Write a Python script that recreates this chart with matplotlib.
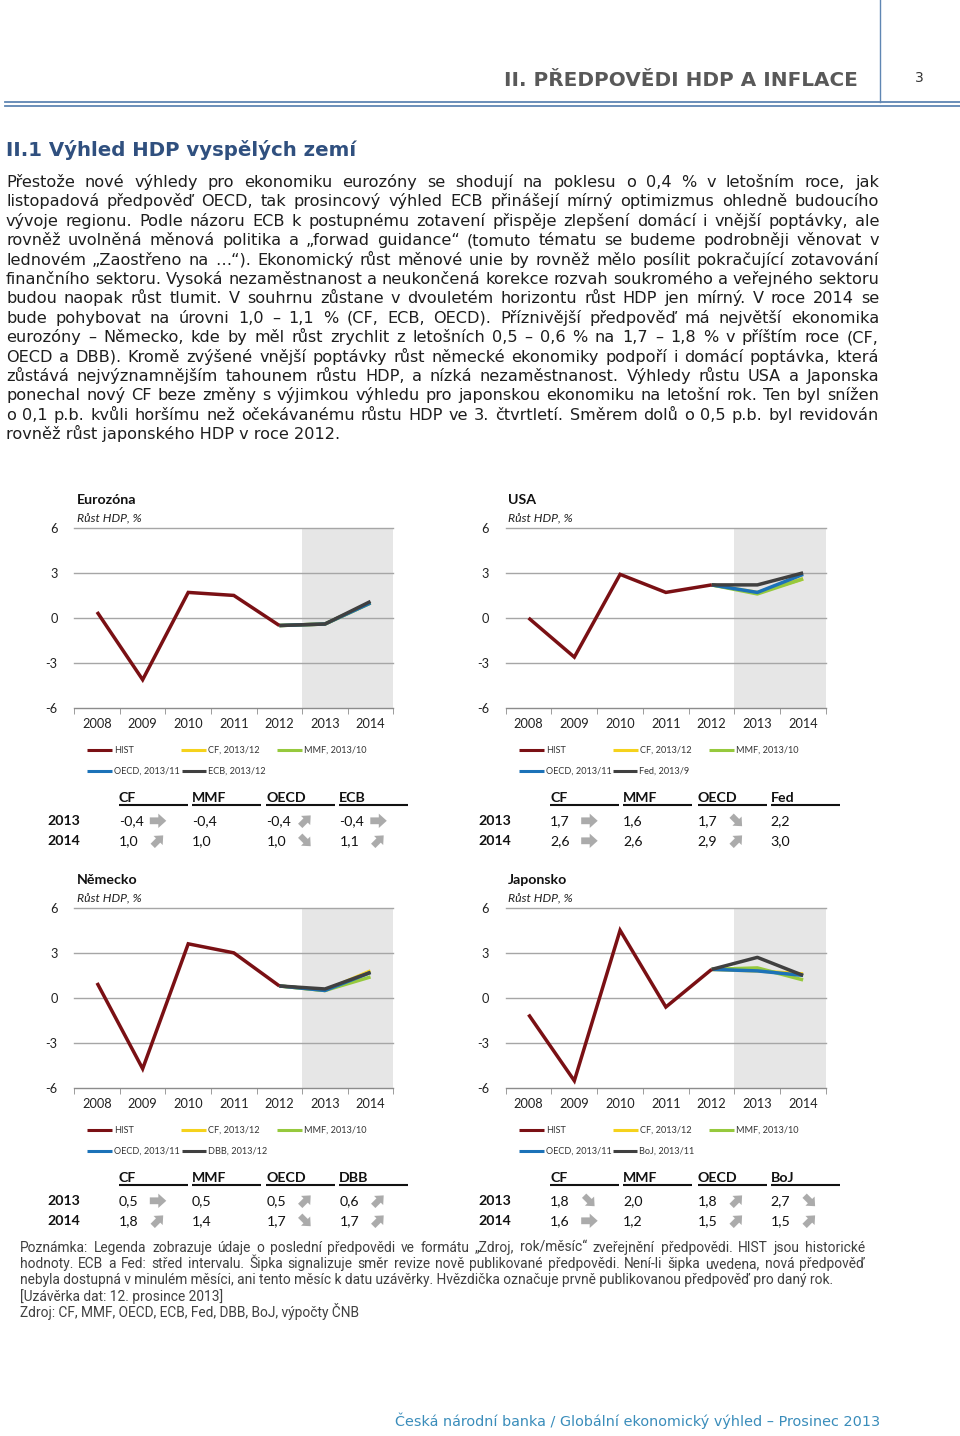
import numpy as np
import matplotlib
matplotlib.use('Agg')
import matplotlib.pyplot as plt
from matplotlib.patches import Polygon

plt.rcParams['font.family'] = ['Lato', 'DejaVu Sans']

# ---------------- data ----------------
years = ['2008', '2009', '2010', '2011', '2012', '2013', '2014']
sources = ['CF', 'MMF', 'OECD']
legend_src = ['CF, 2013/12', 'MMF, 2013/10', 'OECD, 2013/11']

eu_hist = [0.4, -4.1, 1.7, 1.5, -0.5]
eu_f2013 = [-0.4, -0.4, -0.4, -0.4]
eu_f2014 = [1.0, 1.0, 1.0, 1.1]
eu_arr2013 = ['r', '', 'ne', 'r']
eu_arr2014 = ['ne', '', 'se', 'ne']

us_hist = [0.0, -2.6, 2.9, 1.7, 2.2]
us_f2013 = [1.7, 1.6, 1.7, 2.2]
us_f2014 = [2.6, 2.6, 2.9, 3.0]
us_arr2013 = ['r', '', 'se', '']
us_arr2014 = ['r', '', 'ne', '']

de_hist = [1.0, -4.7, 3.6, 3.0, 0.8]
de_f2013 = [0.5, 0.5, 0.5, 0.6]
de_f2014 = [1.8, 1.4, 1.7, 1.7]
de_arr2013 = ['r', '', 'ne', 'ne']
de_arr2014 = ['ne', '', 'se', 'ne']

jp_hist = [-1.1, -5.5, 4.5, -0.6, 1.9]
jp_f2013 = [1.8, 2.0, 1.8, 2.7]
jp_f2014 = [1.6, 1.2, 1.5, 1.5]
jp_arr2013 = ['se', '', 'ne', 'se']
jp_arr2014 = ['r', '', 'ne', 'ne']

paragraph = [
    "Přestože nové výhledy pro ekonomiku eurozóny se shodují na poklesu o 0,4 % v letošním roce, jak",
    "listopadová předpověď OECD, tak prosincový výhled ECB přinášejí mírný optimizmus ohledně budoucího",
    "vývoje regionu. Podle názoru ECB k postupnému zotavení přispěje zlepšení domácí i vnější poptávky, ale",
    "rovněž uvolněná měnová politika a „forwad guidance“ (tomuto tématu se budeme podrobněji věnovat v",
    "lednovém „Zaostřeno na …“). Ekonomický růst měnové unie by rovněž mělo posílit pokračující zotavování",
    "finančního sektoru. Vysoká nezaměstnanost a neukončená korekce rozvah soukromého a veřejného sektoru",
    "budou naopak růst tlumit. V souhrnu zůstane v dvouletém horizontu růst HDP jen mírný. V roce 2014 se",
    "bude pohybovat na úrovni 1,0 – 1,1 % (CF, ECB, OECD). Příznivější předpověď má největší ekonomika",
    "eurozóny – Německo, kde by měl růst zrychlit z letošních 0,5 – 0,6 % na 1,7 – 1,8 % v příštím roce (CF,",
    "OECD a DBB). Kromě zvýšené vnější poptávky růst německé ekonomiky podpoří i domácí poptávka, která",
    "zůstává nejvýznamnějším tahounem růstu HDP, a nízká nezaměstnanost. Výhledy růstu USA a Japonska",
    "ponechal nový CF beze změny s výjimkou výhledu pro japonskou ekonomiku na letošní rok. Ten byl snížen",
    "o 0,1 p.b. kvůli horšímu než očekávanému růstu HDP ve 3. čtvrtletí. Směrem dolů o 0,5 p.b. byl revidován",
    "rovněž růst japonského HDP v roce 2012.",
]

footnote = [
    "Poznámka: Legenda zobrazuje údaje o poslední předpovědi ve formátu „Zdroj, rok/měsíc“ zveřejnění předpovědi. HIST jsou historické",
    "hodnoty. ECB a Fed: střed intervalu. Šipka signalizuje směr revize nově publikované předpovědi. Není-li šipka uvedena, nová předpověď",
    "nebyla dostupná v minulém měsíci, ani tento měsíc k datu uzávěrky. Hvězdička označuje prvně publikovanou předpověď pro daný rok.",
    "[Uzávěrka dat: 12. prosince 2013]",
    "Zdroj: CF, MMF, OECD, ECB, Fed, DBB, BoJ, výpočty ČNB",
]

# ---------------- styles ----------------
C_HIST = '#7a1014'
C_CF = '#f5d21c'
C_MMF = '#96c93d'
C_OECD = '#1c72b8'
C_CB = '#404040'
C_RULE = '#5f86b3'

W, H = 960, 1436
fig = plt.figure(figsize=(W / 100, H / 100), dpi=100)
bg = fig.add_axes([0, 0, 1, 1])
bg.set_xlim(0, W)
bg.set_ylim(H, 0)
bg.axis('off')
renderer = fig.canvas.get_renderer()


def wid(t):
    return t.get_window_extent(renderer=renderer).width


def fit_text(x, y, s, target_w, **kw):
    t = bg.text(x, y, s, fontsize=10, va='baseline', ha='left', **kw)
    t.set_fontsize(10 * target_w / wid(t))
    return t


def justify(x0, x1, y, line, size, **kw):
    words = line.split(' ')
    ts = [bg.text(0, y, w, fontsize=size, va='baseline', ha='left', **kw) for w in words]
    ws = [wid(t) for t in ts]
    gap = (x1 - x0 - sum(ws)) / max(len(words) - 1, 1)
    x = x0
    for t, w in zip(ts, ws):
        t.set_x(x)
        x += w + gap


def arrow(cx, cy, kind):
    ang = {'r': 0, 'ne': 45, 'se': -45}[kind]
    sc = 1.0 if kind == 'r' else 0.9
    shape = np.array([(-8, -3.4), (0.5, -3.4), (0.5, -7.2), (8.5, 0),
                      (0.5, 7.2), (0.5, 3.4), (-8, 3.4)]) * sc
    a = np.deg2rad(ang)
    xs = cx + shape[:, 0] * np.cos(a) - shape[:, 1] * np.sin(a)
    ys = cy - (shape[:, 0] * np.sin(a) + shape[:, 1] * np.cos(a))
    bg.add_patch(Polygon(np.c_[xs, ys], closed=True, fc='#ababab', ec='none'))


# ---------------- page header ----------------
bg.plot([5, W], [101.5, 101.5], color=C_RULE, lw=1.3)
bg.plot([5, W], [105.5, 105.5], color=C_RULE, lw=1.3)
bg.plot([880, 880], [0, 101.5], color=C_RULE, lw=1.0)
fit_text(504, 86, "II. PŘEDPOVĚDI HDP A INFLACE", 354, family='DejaVu Sans',
         fontweight='bold', color='#595959')
bg.text(919, 82, "3", fontsize=10, family='DejaVu Sans', color='#333333',
        ha='center', va='baseline')
fit_text(6, 156, "II.1 Výhled HDP vyspělých zemí", 350, family='DejaVu Sans',
         fontweight='bold', color='#30507f')

# ---------------- paragraph ----------------
tmp = bg.text(0, 0, paragraph[-1], fontsize=10, family='DejaVu Sans')
psize = 10 * 334 / wid(tmp)
tmp.remove()
for i, line in enumerate(paragraph):
    y = 187 + i * 19.4
    if i < len(paragraph) - 1:
        justify(6, 879, y, line, psize, family='DejaVu Sans', color='#1e1e1e')
    else:
        bg.text(6, y, line, fontsize=psize, family='DejaVu Sans', color='#1e1e1e',
                va='baseline', ha='left')


# ---------------- panels ----------------
def panel(left, right, top, bottom, title, hist, f13, f14, cb, cb_leg, a13, a14):
    ax = fig.add_axes([left / W, 1 - bottom / H, (right - left) / W, (bottom - top) / H])
    ax.set_facecolor('none')
    ax.set_xlim(-0.5, 6.5)
    ax.set_ylim(-6, 6)
    ax.axvspan(4.5, 6.5, color='#e6e6e6', lw=0, zorder=0)
    for v in [-3, 0, 3, 6]:
        ax.axhline(v, color='#a6a6a6', lw=1.0, zorder=1, clip_on=False)
    for s in ['top', 'right', 'left']:
        ax.spines[s].set_visible(False)
    ax.spines['bottom'].set_color('#8c8c8c')
    ax.spines['bottom'].set_linewidth(1.0)
    x = np.arange(len(years))
    ax.set_xticks(x)
    ax.set_xticklabels(years, fontsize=9.2, color='#222222')
    ax.set_xticks(np.arange(-0.5, 7, 1), minor=True)
    ax.tick_params(axis='x', which='major', length=0, pad=7)
    ax.tick_params(axis='x', which='minor', length=4, color='#8c8c8c', direction='out')
    ax.set_yticks([-6, -3, 0, 3, 6])
    ax.set_yticklabels(['-6', '-3', '0', '3', '6'], fontsize=9.2, color='#222222')
    ax.tick_params(axis='y', length=0, pad=12)

    cols = [C_CF, C_MMF, C_OECD, C_CB]
    for i in range(4):
        ax.plot(x[4:], [hist[4], f13[i], f14[i]], color=cols[i], lw=2.5, zorder=3 + i * 0.1,
                solid_joinstyle='round', solid_capstyle='butt')
    ax.plot(x[:5], hist, color=C_HIST, lw=2.5, zorder=4, solid_joinstyle='miter',
            solid_capstyle='butt')

    # titles
    bg.text(left + 2.5, top - 23.5, title, fontsize=10.2, fontweight='bold', color='#111111',
            va='baseline', ha='left')
    bg.text(left + 2.5, top - 6, "Růst HDP, %", fontsize=8.8, style='italic', color='#222222',
            va='baseline', ha='left')

    # legend
    r1, r2 = bottom + 42, bottom + 62.5
    lk = dict(fontsize=6.6, color='#333333', va='center', ha='left')
    items1 = [(13, C_HIST, 'HIST'), (107, C_CF, legend_src[0]), (203, C_MMF, legend_src[1])]
    for off, c, lab in items1:
        bg.plot([left + off, left + off + 25], [r1, r1], color=c, lw=2.2, solid_capstyle='butt')
        bg.text(left + off + 27, r1, lab, **lk)
    bg.plot([left + 13, left + 38], [r2, r2], color=C_OECD, lw=2.2, solid_capstyle='butt')
    t = bg.text(left + 40, r2, legend_src[2], **lk)
    xe = left + 40 + wid(t) + 2
    bg.plot([xe, xe + 24], [r2, r2], color=C_CB, lw=2.2, solid_capstyle='butt')
    bg.text(xe + 26, r2, cb_leg, **lk)

    # table
    hy, uy, y1, y2 = bottom + 89.5, bottom + 97, bottom + 112.5, bottom + 132.5
    heads = sources + [cb]
    offs = [44.5, 117.5, 192, 265]
    for j, h in enumerate(heads):
        cx = left + offs[j]
        bg.text(cx, hy, h, fontsize=10.2, fontweight='bold', color='#111111', va='center', ha='left')
        bg.plot([cx, cx + 69], [uy, uy], color='#111111', lw=1.5, solid_capstyle='butt')
        for yy, vals, arrs in [(y1, f13, a13), (y2, f14, a14)]:
            bg.text(cx, yy, f"{vals[j]:.1f}".replace('.', ','), fontsize=10.2, color='#111111',
                    va='center', ha='left')
            if arrs[j]:
                arrow(cx + 39, yy, arrs[j])
    bg.text(left - 27, y1, '2013', fontsize=10.2, fontweight='bold', color='#111111',
            va='center', ha='left')
    bg.text(left - 27, y2, '2014', fontsize=10.2, fontweight='bold', color='#111111',
            va='center', ha='left')


panel(74.3, 393.3, 527.7, 708.3, 'Eurozóna', eu_hist, eu_f2013, eu_f2014, 'ECB', 'ECB, 2013/12',
      eu_arr2013, eu_arr2014)
panel(505.7, 826, 527.7, 708.3, 'USA', us_hist, us_f2013, us_f2014, 'Fed', 'Fed, 2013/9',
      us_arr2013, us_arr2014)
panel(74.3, 393.3, 907.7, 1088.3, 'Německo', de_hist, de_f2013, de_f2014, 'DBB', 'DBB, 2013/12',
      de_arr2013, de_arr2014)
panel(505.7, 826, 907.7, 1088.3, 'Japonsko', jp_hist, jp_f2013, jp_f2014, 'BoJ', 'BoJ, 2013/11',
      jp_arr2013, jp_arr2014)

# ---------------- footnote ----------------
fn_kw = dict(family=['Roboto', 'DejaVu Sans'])
tmp = bg.text(0, 0, footnote[2], fontsize=10, **fn_kw)
fsize = 10 * 818 / wid(tmp)
tmp.remove()
for i, line in enumerate(footnote):
    y = 1252 + i * 16.2
    if i < 2:
        justify(20, 865, y, line, fsize, color='#404040', **fn_kw)
    else:
        bg.text(20, y, line, fontsize=fsize, color='#404040',
                va='baseline', ha='left', **fn_kw)

# ---------------- footer ----------------
fit_text(395, 1426, "Česká národní banka / Globální ekonomický výhled – Prosinec 2013", 484,
         family='DejaVu Sans', color='#3a8dbb')

fig.savefig('out.png', dpi=100)
